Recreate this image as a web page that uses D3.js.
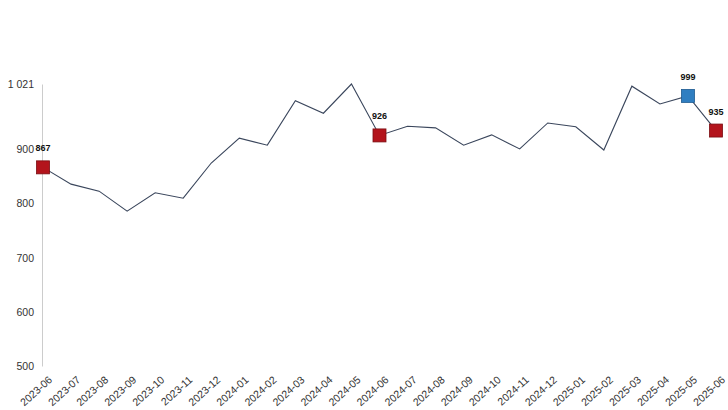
<!DOCTYPE html>
<html>
<head>
<meta charset="utf-8">
<script src="https://cdn.jsdelivr.net/npm/d3@7"></script>
<style>
body{margin:0;background:#fff;}
svg{display:block;font-family:"Liberation Sans",Arial,sans-serif;}
</style>
</head>
<body>
<svg id="chart" width="728" height="410"></svg>
<script>
const months = ["2023-06","2023-07","2023-08","2023-09","2023-10","2023-11","2023-12","2024-01","2024-02","2024-03","2024-04","2024-05","2024-06","2024-07","2024-08","2024-09","2024-10","2024-11","2024-12","2025-01","2025-02","2025-03","2025-04","2025-05","2025-06"];
const values = [867,836,823,786,820,810,875,921,908,990,967,1021,926,943,940,908,927,901,949,942,899,1017,984,999,935];
const yTicks = [500,600,700,800,900,1021];
const highlights = [
  {month:"2023-06", value:867, kind:"red"},
  {month:"2024-06", value:926, kind:"red"},
  {month:"2025-05", value:999, kind:"blue"},
  {month:"2025-06", value:935, kind:"red"}
];

const svg = d3.select("#chart");
const x = d3.scalePoint().domain(months).range([43, 716]);
const y = d3.scaleLinear().domain([500, 1021]).range([366, 84]);
const fmt = v => d3.format(",")(v).replace(/,/g, " ");

// y axis
const yAxis = svg.append("g").attr("transform","translate(42,0)")
  .call(d3.axisLeft(y).tickValues(yTicks).tickFormat(fmt).tickSize(0).tickPadding(8));
yAxis.select(".domain").attr("stroke","#cccccc").attr("stroke-width",1);
yAxis.selectAll("text").attr("font-size",10.5).attr("fill","#333").attr("dy","0.32em");

// x axis
const xAxis = svg.append("g").attr("transform","translate(0,366)")
  .call(d3.axisBottom(x).tickSize(0).tickPadding(0));
xAxis.select(".domain").remove();
xAxis.selectAll("text")
  .attr("font-size",10.5).attr("fill","#333")
  .attr("text-anchor","end")
  .attr("transform","translate(7,12) rotate(-42)")
  .attr("dy","0.35em");

// line
const line = d3.line().x((d,i)=>x(months[i])).y(d=>y(d));
svg.append("path").datum(values)
  .attr("d", line).attr("fill","none")
  .attr("stroke","#3a465c").attr("stroke-width",1.1);

// markers
const s = 13;
svg.selectAll("rect.mk").data(highlights).enter().append("rect")
  .attr("class","mk")
  .attr("x", d=>x(d.month)-s/2).attr("y", d=>y(d.value)-s/2)
  .attr("width", s).attr("height", s)
  .attr("fill", d=>d.kind==="blue" ? "#2f7ec1" : "#b3141c")
  .attr("stroke", d=>d.kind==="blue" ? "#1f5a90" : "#7a0d12").attr("stroke-width",0.8);

svg.selectAll("text.lbl").data(highlights).enter().append("text")
  .attr("class","lbl")
  .attr("x", d=>x(d.month)).attr("y", d=>y(d.value)-16)
  .attr("text-anchor","middle")
  .attr("font-size",9).attr("font-weight","bold").attr("fill","#111")
  .text(d=>fmt(d.value));
</script>
</body>
</html>
